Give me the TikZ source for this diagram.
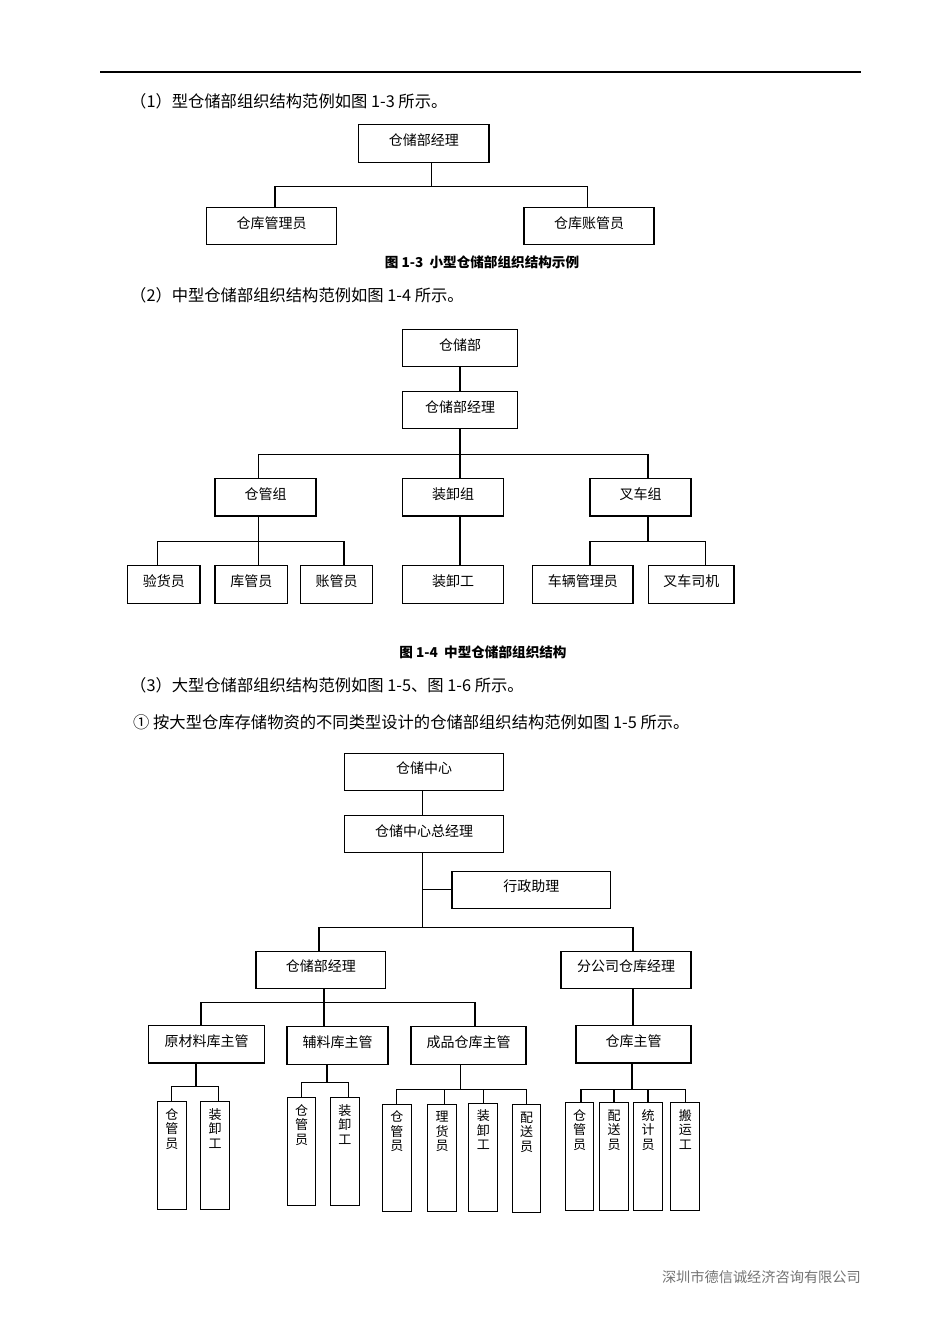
\documentclass[tikz,border=0pt]{standalone}
\usepackage{fontspec}
\setmainfont{Noto Sans CJK SC}
\usepackage{tikz}
\usetikzlibrary{positioning,calc}
\newcommand\fsz[1]{\fontsize{#1pt}{#1pt}\selectfont}

\begin{document}
\begin{tikzpicture}[x=1pt,y=-1pt,
   box/.style={draw,line width=1.1pt,inner sep=0pt,minimum height=37.3pt,
     font=\fsz{14},text height=11pt,text depth=7pt},
   bw/.style={minimum width=#1},
   leaf/.style={draw,line width=1.1pt,anchor=north,inner xsep=0pt,inner ysep=6pt,
     minimum width=28.8pt,minimum height=107.6pt,align=center,
     font=\fontsize{13pt}{14.5pt}\selectfont,text height=40.4pt,text depth=55.2pt},
   link/.style={line width=1.1pt},
   body/.style={anchor=west,inner sep=0pt,font=\fsz{16.3}},
   figcap/.style={inner sep=0pt,font=\fsz{13.6}\bfseries}]
  \useasboundingbox (0,0) rectangle (950,1344);
  % page rule and running text
  \draw[line width=1.2pt] (100,72) coordinate (ruleL) -- (861,72) coordinate (ruleR);
  \node[body] (t1) at (130,101) {（1）型仓储部组织结构范例如图 1-3 所示。};
  \node[body] (t2) at (130,295) {（2）中型仓储部组织结构范例如图 1-4 所示。};
  \node[body] (t3) at (130,685) {（3）大型仓储部组织结构范例如图 1-5、图 1-6 所示。};
  \node[body] (t4) at (133,722) {① 按大型仓库存储物资的不同类型设计的仓储部组织结构范例如图 1-5 所示。};
  \node[anchor=east,inner sep=0pt,font=\fsz{14.2},text=black!55] (foot) at (861,1277) {深圳市德信诚经济咨询有限公司};

  % figure 1-3
  \node[box,bw=130.5pt] (aMgr) at (423.75,143.5) {仓储部经理};
  \node[box,bw=130pt] (aKeep) at (271.5,226) {仓库管理员};
  \node[box,bw=130pt] (aAcct) at (589,226) {仓库账管员};
  \draw[link] ([xshift=7.75pt]aMgr.south) -- ++(0,24) coordinate (aBus);
  \draw[link] ([xshift=3.5pt]aKeep.north) |- (aBus) -| ([xshift=-1.5pt]aAcct.north);
  \node[figcap] (capA) at (482,262) {图 1-3\ \ 小型仓储部组织结构示例};

  % figure 1-4
  \node[box,bw=115.5pt] (bDept) at (460,348) {仓储部};
  \node[box,bw=115.5pt] (bMgr) at (460,410) {仓储部经理};
  \node[box,bw=101pt] (bG1) at (265.5,497.3) {仓管组};
  \node[box,bw=101pt] (bG2) at (453,497.3) {装卸组};
  \node[box,bw=101pt] (bG3) at (640.5,497.3) {叉车组};
  \node[box,bw=72.5pt] (bL1) at (163.75,584.5) {验货员};
  \node[box,bw=72.5pt] (bL2) at (251.25,584.5) {库管员};
  \node[box,bw=72pt] (bL3) at (336.5,584.5) {账管员};
  \node[box,bw=101pt] (bL4) at (453,584.5) {装卸工};
  \node[box,bw=100.5pt] (bL5) at (582.75,584.5) {车辆管理员};
  \node[box,bw=85.5pt] (bL6) at (691.25,584.5) {叉车司机};
  \draw[link] (bDept) -- (bMgr);
  \draw[link] (bMgr.south) -- ([xshift=7pt]bG2.north);
  \coordinate (bBus) at ($(bMgr.south)+(0,25)$);
  \draw[link] ([xshift=-7pt]bG1.north) |- (bBus) -| ([xshift=7.5pt]bG3.north);
  \draw[link] ([xshift=-7pt]bG1.south) -- ([xshift=7.25pt]bL2.north);
  \coordinate (bBus1) at ($([xshift=-7pt]bG1.south)+(0,25)$);
  \draw[link] ([xshift=-6.25pt]bL1.north) |- (bBus1) -| ([xshift=7.5pt]bL3.north);
  \draw[link] ([xshift=7pt]bG2.south) -- ([xshift=7pt]bL4.north);
  \draw[link] ([xshift=7.5pt]bG3.south) -- ++(0,25) coordinate (bBus3);
  \draw[link] ([xshift=7.25pt]bL5.north) |- (bBus3) -| ([xshift=14.25pt]bL6.north);
  \node[figcap] (capB) at (483,652) {图 1-4\ \ 中型仓储部组织结构};

  % figure 1-5, upper levels
  \node[box,bw=159pt] (cTop) at (424,771.7) {仓储中心};
  \node[box,bw=159pt] (cGm) at (424,834.2) {仓储中心总经理};
  \node[box,bw=158.5pt] (cAsst) at (531.25,889.7) {行政助理};
  \node[box,bw=129.5pt] (cWm) at (320.75,969.7) {仓储部经理};
  \node[box,bw=130pt] (cBm) at (626,969.7) {分公司仓库经理};
  \node[box,bw=116pt] (cS1) at (206.5,1044.3) {原材料库主管};
  \node[box,bw=101pt] (cS2) at (337.5,1045.5) {辅料库主管};
  \node[box,bw=115pt] (cS3) at (468.5,1045.5) {成品仓库主管};
  \node[box,bw=115pt] (cS4) at (633.5,1044.3) {仓库主管};
  \draw[link] ([xshift=-1.5pt]cTop.south) -- ([xshift=-1.5pt]cGm.north);
  \draw[link] ([xshift=-1.5pt]cGm.south) -- ++(0,74) coordinate (cBus);
  \draw[link] (cAsst.west) -- (cAsst.west -| cBus);
  \draw[link] ([xshift=-1.75pt]cWm.north) |- (cBus) -| ([xshift=7pt]cBm.north);
  \draw[link] ([xshift=3.25pt]cWm.south) -- ++(0,13.4) coordinate (cBus1);
  \draw[link] ([xshift=-5.5pt]cS1.north) |- (cBus1) -| ([xshift=6.5pt]cS3.north);
  \draw[link] (cBus1) -- ([xshift=-13.5pt]cS2.north);
  \draw[link] ([xshift=7pt]cBm.south) -- ([xshift=-0.5pt]cS4.north);

  % figure 1-5, staff
  \node[leaf] (cA1) at (171.75,1101.3) {仓\\管\\员};
  \node[leaf] (cA2) at (215,1101.3) {装\\卸\\工};
  \node[leaf] (cB1) at (301.5,1097.3) {仓\\管\\员};
  \node[leaf] (cB2) at (344.75,1097.3) {装\\卸\\工};
  \node[leaf] (cC1) at (396.75,1103.7) {仓\\管\\员};
  \node[leaf] (cC2) at (442,1103.7) {理\\货\\员};
  \node[leaf] (cC3) at (483.25,1103) {装\\卸\\工};
  \node[leaf] (cC4) at (526.5,1104.3) {配\\送\\员};
  \node[leaf] (cD1) at (579.5,1102.3) {仓\\管\\员};
  \node[leaf] (cD2) at (614,1102.3) {配\\送\\员};
  \node[leaf] (cD3) at (648,1102.3) {统\\计\\员};
  \node[leaf] (cD4) at (685.25,1102.3) {搬\\运\\工};
  \draw[link] ([xshift=-10.5pt]cS1.south) -- ++(0,23) coordinate (cBusA);
  \draw[link] (cA1.north) |- (cBusA) -| ([xshift=3.5pt]cA2.north);
  \draw[link] ([xshift=-10.5pt]cS2.south) -- ++(0,18) coordinate (cBusB);
  \draw[link] (cB1.north) |- (cBusB) -| ([xshift=3.75pt]cB2.north);
  \draw[link] ([xshift=-8pt]cS3.south) -- ++(0,24.7) coordinate (cBusC);
  \draw[link] (cC1.north) |- (cBusC) -| (cC4.north);
  \draw[link] ([xshift=2.5pt]cC2.north) -- ([xshift=2.5pt]cC2.north |- cBusC);
  \draw[link] (cC3.north) -- (cC3.north |- cBusC);
  \draw[link] ([xshift=-1.5pt]cS4.south) -- ++(0,26) coordinate (cBusD);
  \draw[link] ([xshift=1.5pt]cD1.north) |- (cBusD) -| (cD4.north);
  \draw[link] (cD2.north) -- (cD2.north |- cBusD);
  \draw[link] (cD3.north) -- (cD3.north |- cBusD);
\end{tikzpicture}
\end{document}
